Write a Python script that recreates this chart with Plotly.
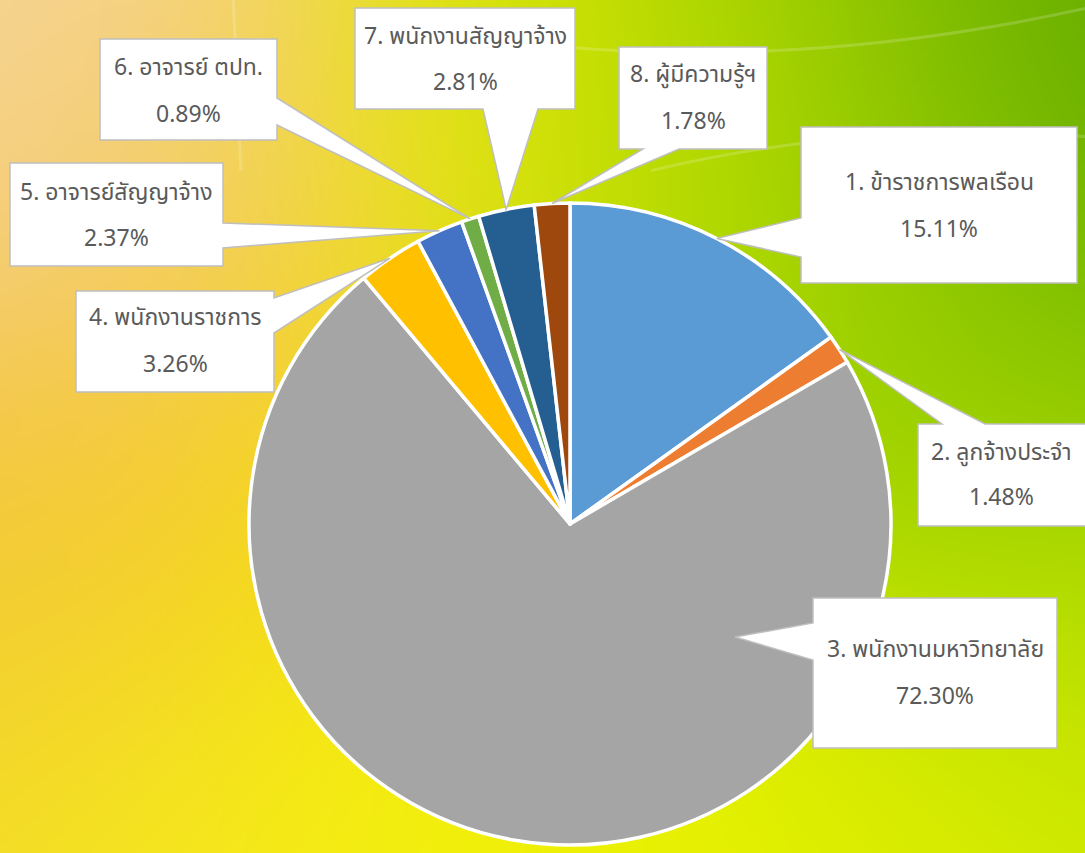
import math, zlib, struct, base64
import numpy as np
import plotly.graph_objects as go

W, H = 1085, 853

# ---------------- data ----------------
labels = ["1. ข้าราชการพลเรือน", "2. ลูกจ้างประจำ", "3. พนักงานมหาวิทยาลัย",
          "4. พนักงานราชการ", "5. อาจารย์สัญญาจ้าง", "6. อาจารย์ ตปท.",
          "7. พนักงานสัญญาจ้าง", "8. ผู้มีความรู้ฯ"]
values = [15.11, 1.48, 72.30, 3.26, 2.37, 0.89, 2.81, 1.78]
colors = ["#5B9BD5", "#ED7D31", "#A5A5A5", "#FFC000",
          "#4472C4", "#70AD47", "#255E91", "#9E480E"]

# ---------------- layout helpers ----------------
CX, CY, R = 570, 524, 321          # pie centre / radius in px


def px(x):
    return x / W


def py(y):
    return 1 - y / H


# background gradient image
ctrl = [
    (0, 0, "#F8DCA8"), (0, 150, "#F6D390"), (130, 60, "#F3CA80"),
    (210, 230, "#F3C65A"), (60, 440, "#F4C040"), (0, 650, "#F3D030"),
    (150, 850, "#F5E820"), (330, 480, "#F6DE08"), (430, 130, "#F6EC0C"),
    (400, 830, "#F6F010"), (620, 850, "#ECF200"), (600, 30, "#D4E600"),
    (760, 40, "#A8D600"), (900, 20, "#74B800"), (1085, 0, "#5AA400"),
    (1085, 220, "#6AB200"), (980, 420, "#98D000"), (1085, 620, "#B6DE00"),
    (1000, 820, "#D6EC00"), (820, 830, "#E2F000"), (800, 300, "#A6D600"),
    (700, 200, "#C0E200"),
]
s = 4
gw, gh = W // s + 1, H // s + 1
yy, xx = np.mgrid[0:gh, 0:gw] * s
acc = np.zeros((gh, gw, 3))
wsum = np.zeros((gh, gw))
sig = 170.0
for cxp, cyp, col in ctrl:
    rgb = np.array([int(col[i:i + 2], 16) for i in (1, 3, 5)], float)
    w = np.exp(-((xx - cxp) ** 2 + (yy - cyp) ** 2) / (2 * sig ** 2)) + 1e-9
    acc += w[..., None] * rgb
    wsum += w
img = np.clip(acc / wsum[..., None], 0, 255).astype(np.uint8)


def to_png(a):
    h, w, _ = a.shape
    raw = b"".join(b"\x00" + a[r].tobytes() for r in range(h))

    def chunk(t, d):
        c = struct.pack(">I", len(d)) + t + d
        return c + struct.pack(">I", zlib.crc32(t + d) & 0xffffffff)
    return (b"\x89PNG\r\n\x1a\n" + chunk(b"IHDR", struct.pack(">IIBBBBB", w, h, 8, 2, 0, 0, 0))
            + chunk(b"IDAT", zlib.compress(raw, 9)) + chunk(b"IEND", b""))


bg_src = "data:image/png;base64," + base64.b64encode(to_png(img)).decode()

# ---------------- figure ----------------
fig = go.Figure(go.Pie(
    labels=labels, values=values, sort=False, direction="clockwise", rotation=0,
    textinfo="none", hoverinfo="label+percent",
    marker=dict(colors=colors, line=dict(color="white", width=3.5)),
    domain=dict(x=[px(CX - R), px(CX + R)], y=[py(CY + R), py(CY - R)]),
    showlegend=False,
))

# faint decorative light streaks of the background
deco = [
    "M 0.215,1 L 0.222,0.80",
    "M 0.52,0.945 Q 0.75,0.92 1.0,0.99",
    "M 0.60,0.80 Q 0.80,0.86 1.0,0.84",
]
shapes = [dict(type="path", path=p, xref="paper", yref="paper", layer="below",
               line=dict(color="rgba(255,255,255,0.18)", width=3)) for p in deco]

# callout boxes: (x0, y0, x1, y1, side, base_a, base_b, line1_y, line2_y)
boxes = [
    (801, 127, 1077, 283, "left", 218, 257, 183, 230),
    (918, 424, 1087, 526, "top", 942, 985, 453, 498),
    (813, 598, 1057, 748, "left", 623, 660, 650, 697),
    (76, 291, 274, 392, "right", 298, 333, 318, 365),
    (10, 163, 223, 266, "right", 223, 248, 193, 239),
    (100, 39, 277, 140, "right", 98, 125, 68, 115),
    (355, 8, 575, 109, "bottom", 483, 538, 37, 83),
    (619, 47, 767, 149, "bottom", 643, 679, 75, 122),
]
tip_override = {2: (735, 637)}

total = sum(values)
cum = 0
annos = []
font = dict(family="Leelawadee UI, Segoe UI, Noto Sans Thai, Noto Sans, sans-serif",
            size=23, color="#5A5A5A")
for i, v in enumerate(values):
    ang = math.radians((cum + v / 2) / total * 360)
    cum += v
    tx, ty = tip_override.get(i, (CX + R * math.sin(ang), CY - R * math.cos(ang)))
    x0, y0, x1, y1, side, a, b, l1, l2 = boxes[i]
    if side == "left":
        pts = [(x0, y0), (x1, y0), (x1, y1), (x0, y1), (x0, b), (tx, ty), (x0, a)]
    elif side == "right":
        pts = [(x0, y0), (x1, y0), (x1, a), (tx, ty), (x1, b), (x1, y1), (x0, y1)]
    elif side == "top":
        pts = [(x0, y0), (a, y0), (tx, ty), (b, y0), (x1, y0), (x1, y1), (x0, y1)]
    else:
        pts = [(x0, y0), (x1, y0), (x1, y1), (b, y1), (tx, ty), (a, y1), (x0, y1)]
    path = "M " + " L ".join(f"{px(p[0]):.5f},{py(p[1]):.5f}" for p in pts) + " Z"
    shapes.append(dict(type="path", path=path, xref="paper", yref="paper",
                       fillcolor="white", line=dict(color="#BFBFBF", width=1.5),
                       layer="above"))
    xc = px((x0 + min(x1, W)) / 2)
    annos.append(dict(text=labels[i], x=xc, y=py(l1), xref="paper", yref="paper",
                      showarrow=False, xanchor="center", yanchor="middle", font=font))
    annos.append(dict(text=f"{v / total * 100:.2f}%", x=xc, y=py(l2), xref="paper",
                      yref="paper", showarrow=False, xanchor="center",
                      yanchor="middle", font=font))

fig.update_layout(
    width=W, height=H, margin=dict(l=0, r=0, t=0, b=0),
    paper_bgcolor="#E8E400", plot_bgcolor="rgba(0,0,0,0)",
    shapes=shapes, annotations=annos,
    images=[dict(source=bg_src, xref="paper", yref="paper", x=0, y=1,
                 sizex=1, sizey=1, sizing="stretch", xanchor="left",
                 yanchor="top", layer="below")],
)

fig.write_html("out.html", config={"displayModeBar": False},
               post_script="document.body.style.margin='0';document.body.style.overflow='hidden';")
